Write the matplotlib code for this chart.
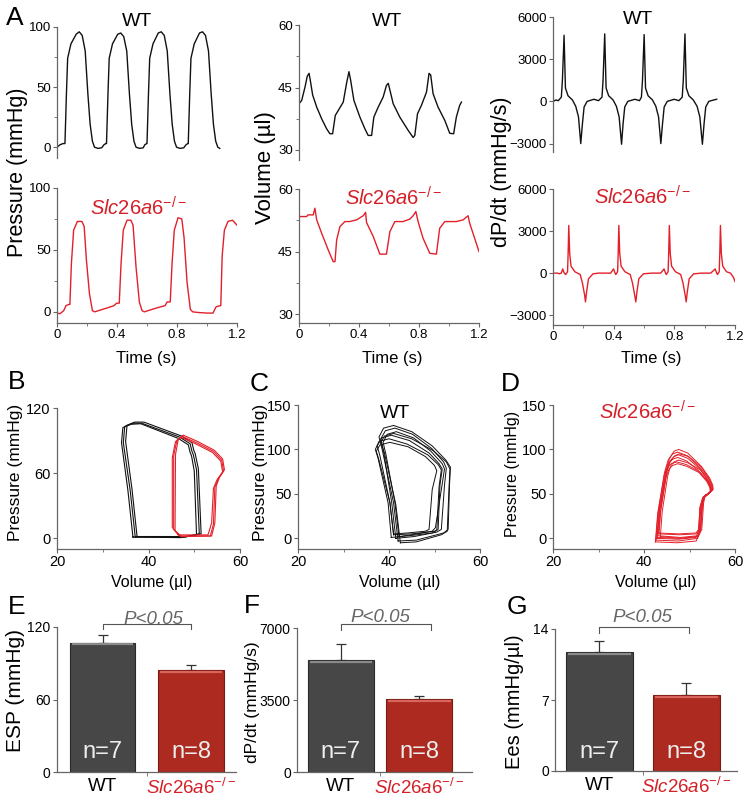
import matplotlib
matplotlib.use('Agg')
import matplotlib.pyplot as plt
from matplotlib.ticker import MultipleLocator

plt.rcParams['font.family'] = ['Liberation Sans', 'DejaVu Sans']
plt.rcParams['mathtext.fontset'] = 'custom'
plt.rcParams['mathtext.it'] = 'Liberation Sans:italic'
plt.rcParams['mathtext.rm'] = 'Liberation Sans'

# ---------------- A: traces (time in s) ----------------
p_wt_t = [0.000, 0.020, 0.040, 0.053, 0.063, 0.071, 0.093, 0.128, 0.148, 0.168, 0.188, 0.206, 0.221, 0.236, 0.250, 0.273, 0.298, 0.313, 0.325,
          0.330, 0.340, 0.348, 0.370, 0.405, 0.425, 0.445, 0.465, 0.483, 0.498, 0.513, 0.527, 0.550, 0.575, 0.585, 0.598,
          0.600, 0.610, 0.618, 0.640, 0.675, 0.695, 0.715, 0.735, 0.753, 0.768, 0.783, 0.797, 0.820, 0.845, 0.860, 0.872,
          0.875, 0.885, 0.893, 0.915, 0.950, 0.970, 0.990, 1.010, 1.028, 1.043, 1.058, 1.072, 1.085]
p_wt = [0, 2, 3, 3, 45, 74, 86, 94, 96, 93, 80, 44, 19, 5, 0, -1, -0.5, 2, 3,
        3, 45, 74, 86, 94, 95, 92, 80, 44, 19, 5, 0, -1, -0.5, 2, 3,
        3, 45, 74, 86, 95, 96, 93, 80, 44, 19, 5, 0, -1, -0.5, 2, 3,
        3, 45, 74, 86, 95, 96, 93, 80, 44, 19, 5, 0, -1]

p_ko_t = [0.000, 0.020, 0.045, 0.060, 0.078, 0.086, 0.096, 0.111, 0.136, 0.166, 0.181, 0.196, 0.216, 0.236, 0.251, 0.330, 0.380, 0.397, 0.415,
          0.427, 0.442, 0.467, 0.492, 0.507, 0.527, 0.549, 0.567, 0.582, 0.660, 0.720, 0.735, 0.755,
          0.767, 0.782, 0.807, 0.832, 0.847, 0.867, 0.889, 0.905, 0.940, 1.000, 1.040, 1.060, 1.085, 1.092,
          1.101, 1.116, 1.140, 1.170, 1.185, 1.200]
p_ko = [-1, -1.5, 1, 5, 6, 6, 39, 66, 73, 73, 69, 42, 15, 1, 0, 3, 5, 7, 7,
        39, 66, 74, 74, 70, 36, 8, 1, 0, 3, 5, 8, 8,
        39, 66, 76, 75, 60, 24, 2, 0, -0.5, -1, -1, 4, 5, 5,
        45, 66, 73, 74, 72, 70]

v_wt_t = [0.000, 0.018, 0.040, 0.055, 0.067, 0.075, 0.091, 0.118, 0.151, 0.184, 0.206, 0.224, 0.242, 0.262, 0.295, 0.317, 0.333, 0.344,
          0.366, 0.406, 0.439, 0.461, 0.484, 0.499, 0.528, 0.561, 0.583, 0.595, 0.606, 0.628, 0.672, 0.728, 0.761, 0.772,
          0.790, 0.816, 0.850, 0.867, 0.878, 0.894, 0.927, 0.972, 1.005, 1.031, 1.049, 1.071, 1.083]
v_wt = [41.1, 41.9, 45.1, 47.7, 48.4, 46.8, 43.2, 40.3, 37.5, 35.1, 33.9, 33.9, 38.3, 39.5, 41.5, 46.0, 48.8, 46.8,
        41.9, 37.9, 35.1, 33.5, 33.5, 37.9, 40.3, 42.7, 45.5, 46.0, 44.4, 41.1, 37.9, 34.7, 33.0, 33.5,
        38.7, 40.7, 43.9, 48.4, 48.0, 43.5, 40.3, 37.1, 34.0, 33.9, 37.9, 40.7, 41.5]

v_ko_t = [0.000, 0.051, 0.060, 0.084, 0.095, 0.106, 0.118, 0.151, 0.195, 0.228, 0.240, 0.251, 0.273, 0.306, 0.339, 0.384, 0.428, 0.444,
          0.450, 0.495, 0.539, 0.583, 0.606, 0.639, 0.694, 0.739, 0.761, 0.779, 0.794, 0.827, 0.872, 0.916, 0.938, 0.972,
          1.049, 1.094, 1.127, 1.138, 1.200]
v_ko = [53.4, 53.4, 53.8, 53.8, 53.8, 55.4, 52.6, 49.4, 45.4, 42.6, 42.6, 47.8, 51.0, 52.2, 52.2, 52.6, 53.6, 54.4,
        52.0, 48.6, 44.4, 44.4, 49.8, 52.2, 52.2, 52.8, 53.6, 54.6, 52.2, 48.2, 44.6, 44.4, 50.6, 52.2,
        52.2, 52.6, 53.6, 51.8, 45.0]

d_wt_t = [0.000, 0.020, 0.035, 0.055, 0.062, 0.073, 0.082, 0.099, 0.128, 0.150, 0.168, 0.183, 0.194, 0.205, 0.225, 0.270, 0.300, 0.323,
          0.330, 0.341, 0.350, 0.367, 0.396, 0.418, 0.436, 0.452, 0.462, 0.473, 0.493, 0.540, 0.570, 0.583,
          0.590, 0.601, 0.610, 0.627, 0.656, 0.678, 0.696, 0.711, 0.722, 0.733, 0.753, 0.800, 0.830, 0.852,
          0.859, 0.870, 0.879, 0.896, 0.925, 0.950, 0.968, 0.985, 0.996, 1.007, 1.027, 1.060, 1.079]
d_wt = [0, 100, 50, 300, 1500, 4700, 950, 400, 100, -350, -1100, -3000, -1600, -400, 0, 150, 50, 300,
        1500, 4800, 950, 400, 100, -350, -1100, -3050, -1600, -400, 0, 150, 50, 300,
        1500, 4750, 950, 400, 100, -350, -1100, -3000, -1600, -400, 0, 150, 50, 300,
        1500, 4800, 950, 400, 100, -350, -1100, -3050, -1600, -400, 0, 100, 150]

d_ko_t = [0.000, 0.030, 0.040, 0.055, 0.064, 0.074, 0.084, 0.096, 0.100, 0.104, 0.110, 0.119, 0.144, 0.179, 0.194, 0.209, 0.214, 0.222, 0.234, 0.264, 0.300,
          0.380, 0.399, 0.409, 0.414, 0.426, 0.430, 0.434, 0.440, 0.449, 0.474, 0.509, 0.524, 0.539, 0.546, 0.554, 0.566, 0.596, 0.650,
          0.710, 0.732, 0.742, 0.747, 0.759, 0.763, 0.767, 0.773, 0.782, 0.807, 0.842, 0.857, 0.872, 0.878, 0.886, 0.898, 0.928, 0.980,
          1.040, 1.069, 1.079, 1.084, 1.096, 1.100, 1.104, 1.110, 1.119, 1.144, 1.170, 1.190, 1.200]
d_ko = [0, 0, -50, 0, 300, 0, -100, 100, 1500, 3400, 1400, 500, 100, -100, -700, -1600, -2050, -1300, -400, -50, 0,
        0, 300, 0, -100, 100, 1500, 3400, 1400, 500, 100, -100, -700, -1600, -2050, -1300, -400, -50, 0,
        0, 300, 0, -100, 100, 1500, 3400, 1400, 500, 100, -100, -700, -1600, -2050, -1300, -400, -50, 0,
        0, 300, 0, -100, 100, 1500, 3400, 1400, 500, 100, 0, -300, -600]

# ---------------- B-D: PV loops (volume ul, pressure mmHg) ----------------
b_wt_v = [[37.1, 36.0, 34.5, 34.8, 36.5, 38.5, 46.9, 49.1, 49.5, 49.8, 50.5, 51.1, 48.0, 37.1],
          [36.6, 35.5, 34.1, 34.4, 36.2, 38.3, 46.5, 48.7, 49.1, 49.4, 50.0, 50.5, 47.0, 36.6],
          [37.5, 36.4, 35.0, 35.3, 37.0, 39.0, 47.3, 49.5, 49.9, 50.2, 50.9, 51.5, 48.0, 37.5]]
b_wt_p = [[1, 44, 88, 103, 106, 106, 93, 87, 80, 77, 63, 4, 1, 1],
          [1, 44, 88, 102, 105, 105.5, 92, 86, 79, 76, 62, 3, 0.5, 1],
          [1.5, 45, 89, 104, 107, 107, 94, 88, 81, 78, 64, 4, 1.5, 1.5]]
b_ko_v = [[46.9, 45.5, 45.5, 46.2, 47.3, 50.5, 54.2, 56.0, 56.4, 55.3, 54.5, 54.2, 53.5, 46.9],
          [46.5, 45.2, 45.2, 45.9, 47.1, 50.3, 54.0, 55.8, 56.2, 55.0, 54.2, 53.8, 53.0, 46.5],
          [47.2, 45.8, 45.9, 46.5, 47.6, 50.8, 54.4, 56.2, 56.6, 55.5, 54.8, 54.5, 53.8, 47.2]]
b_ko_p = [[2, 8, 76, 90, 94, 88, 80, 72, 62, 55, 47, 13, 2, 2],
          [3, 10, 74, 89, 93, 87, 79, 71, 61, 54, 46, 14, 3, 3],
          [1.5, 7, 77, 91, 95, 89, 81, 73, 63, 56, 48, 14, 2, 1.5]]

c_wt_v = [[42.0, 41.0, 38.5, 37.8, 38.8, 41.0, 45.0, 49.5, 52.5, 53.5, 53.3, 53.0, 52.0, 46.0, 42.0],
          [41.5, 40.6, 38.8, 38.2, 39.2, 41.3, 45.2, 49.4, 52.0, 52.6, 52.2, 51.5, 50.5, 45.5, 41.5],
          [42.2, 41.3, 39.3, 38.7, 39.6, 41.6, 45.4, 49.2, 51.7, 52.2, 51.6, 50.2, 49.5, 45.0, 42.2],
          [41.0, 40.2, 38.0, 37.4, 38.4, 40.5, 44.5, 48.8, 51.0, 51.7, 51.2, 50.8, 50.0, 45.0, 41.0],
          [40.5, 39.8, 37.6, 37.0, 37.8, 40.0, 44.0, 48.5, 50.8, 51.5, 51.0, 50.5, 49.5, 44.5, 40.5],
          [41.0, 40.2, 37.8, 37.2, 38.0, 40.2, 44.2, 48.0, 50.0, 50.5, 49.5, 48.8, 48.0, 44.0, 41.0],
          [42.5, 41.5, 39.0, 38.2, 39.0, 41.0, 45.0, 49.6, 52.6, 53.4, 53.2, 52.8, 51.5, 46.0, 42.5]]
c_wt_p = [[-3, 40, 100, 114, 124, 127, 120, 104, 88, 80, 60, 10, 6, -2, -3],
          [0, 40, 98, 112, 121, 124, 117, 101, 86, 79, 60, 10, 7, 2, 0],
          [2, 40, 95, 108, 117, 120, 113, 98, 84, 78, 58, 12, 8, 4, 2],
          [4, 40, 93, 104, 113, 116, 110, 96, 84, 78, 60, 10, 8, 5, 4],
          [1, 40, 90, 100, 109, 112, 106, 94, 83, 77, 58, 9, 6, 3, 1],
          [5, 40, 88, 98, 105, 108, 103, 92, 82, 76, 55, 10, 8, 6, 5],
          [-5, 38, 96, 108, 115, 118, 112, 99, 86, 78, 58, 8, 4, -4, -5]]

d_ko_v = [[43.0, 43.4, 44.8, 45.6, 46.6, 47.6, 49.6, 52.6, 54.4, 55.1, 55.2, 54.4, 53.5, 53.1, 52.7, 52.0, 48.0, 43.0],
          [42.6, 43.1, 44.5, 45.3, 46.3, 47.4, 49.5, 52.4, 54.2, 54.9, 55.0, 54.2, 53.3, 52.8, 52.4, 51.8, 47.5, 42.6],
          [43.3, 43.7, 45.0, 45.7, 46.6, 47.6, 49.6, 52.3, 54.0, 54.7, 54.8, 54.0, 53.1, 52.5, 52.2, 51.6, 47.8, 43.3],
          [42.8, 43.3, 44.7, 45.4, 46.3, 47.4, 49.4, 52.0, 53.8, 54.5, 54.6, 53.8, 52.9, 52.3, 52.0, 51.4, 47.5, 42.8],
          [43.6, 44.0, 45.2, 45.8, 46.6, 47.6, 49.6, 52.4, 54.0, 54.7, 54.9, 54.1, 53.2, 52.7, 52.4, 51.8, 48.0, 43.6],
          [42.5, 43.0, 44.4, 45.1, 46.0, 47.2, 49.3, 52.2, 53.9, 54.6, 54.7, 53.9, 53.0, 52.4, 52.1, 51.5, 47.3, 42.5],
          [43.2, 43.6, 44.8, 45.5, 46.3, 47.4, 49.4, 52.1, 53.8, 54.5, 54.6, 53.8, 52.9, 52.3, 52.0, 51.4, 47.6, 43.2],
          [42.9, 43.4, 44.9, 45.7, 46.8, 47.8, 49.8, 52.6, 54.3, 55.0, 55.1, 54.3, 53.4, 52.9, 52.5, 51.9, 47.9, 42.9]]
d_ko_p = [[3, 30, 76, 90, 98, 100, 96, 81, 68, 60, 55, 51, 49, 40, 10, 3, 1, 3],
          [-2, 28, 74, 88, 95, 97, 93, 79, 67, 59, 54, 50, 48, 38, 9, 0, -3, -2],
          [5, 32, 74, 86, 92, 94, 90, 78, 66, 58, 54, 50, 47, 36, 10, 5, 4, 5],
          [0, 30, 72, 84, 89, 91, 87, 76, 65, 58, 53, 49, 46, 35, 8, 1, -1, 0],
          [2, 30, 70, 81, 86, 88, 85, 77, 66, 59, 54, 50, 47, 37, 9, 2, 0, 2],
          [-4, 28, 70, 80, 84, 86, 83, 75, 65, 58, 53, 49, 46, 35, 7, -3, -5, -4],
          [6, 30, 68, 78, 82, 84, 81, 74, 64, 57, 52, 48, 45, 34, 10, 6, 5, 6],
          [1, 31, 74, 87, 93, 95, 92, 80, 67, 59, 55, 51, 48, 39, 11, 2, 0, 1]]

# ---------------- E-G: bars ----------------
groups = ['WT', r'$\mathit{Slc26a6}^{\mathit{-/-}}$']
n_labels = ['n=7', 'n=8']
esp_mean = [107, 84.5]
esp_sem = [6, 4]
dpdt_mean = [5450, 3550]
dpdt_sem = [780, 150]
ees_mean = [11.7, 7.5]
ees_sem = [1.1, 1.2]

BLACK = '#111111'
RED = '#e3202a'
RED_TXT = '#d41f27'
SPINE = '#666666'
W, H = 754, 798

fig = plt.figure(figsize=(W / 100, H / 100), dpi=100)


def px_axes(l, t, r, b):
    return fig.add_axes([l / W, 1 - b / H, (r - l) / W, (b - t) / H])


def ftext(x, y, s, **kw):
    kw.setdefault('ha', 'center')
    kw.setdefault('va', 'center')
    fig.text(x / W, 1 - y / H, s, **kw)


def style(ax, xaxis=True):
    for s in ['top', 'right']:
        ax.spines[s].set_visible(False)
    for s in ['left', 'bottom']:
        ax.spines[s].set_color(SPINE)
        ax.spines[s].set_linewidth(0.9)
    ax.tick_params(which='both', direction='out', color=SPINE, labelsize=9.5, pad=1.5)
    ax.tick_params(which='major', length=3)
    ax.tick_params(which='minor', length=2)
    if not xaxis:
        ax.spines['bottom'].set_visible(False)
        ax.set_xticks([])


SLC = r'$\mathit{Slc26a6}^{\mathit{-/-}}$'

# ---- A ----
cols = [(57, 237), (299, 479), (553, 735)]
top_rows = [(27, 158), (25, 160), (17, 152)]
bot_rows = [(188, 323), (189, 323), (189, 325)]
ylims_top = [(-9, 100), (27.6, 60), (-3600, 6000)]
ylims_bot = [(-9, 100), (27.9, 60), (-3700, 6000)]
yticks = [[0, 50, 100], [30, 45, 60], [-3000, 0, 3000, 6000]]
yminor = [25, 7.5, None]
wt_series = [(p_wt_t, p_wt), (v_wt_t, v_wt), (d_wt_t, d_wt)]
ko_series = [(p_ko_t, p_ko), (v_ko_t, v_ko), (d_ko_t, d_ko)]

for i in range(3):
    l, r = cols[i]
    at = px_axes(l, top_rows[i][0], r, top_rows[i][1])
    ab = px_axes(l, bot_rows[i][0], r, bot_rows[i][1])
    at.plot(*wt_series[i], color=BLACK, lw=1.0)
    ab.plot(*ko_series[i], color=RED, lw=1.0)
    for ax, yl in [(at, ylims_top[i]), (ab, ylims_bot[i])]:
        ax.set_xlim(0, 1.2)
        ax.set_ylim(*yl)
        ax.set_yticks(yticks[i])
        if yminor[i]:
            ax.yaxis.set_minor_locator(MultipleLocator(yminor[i]))
    style(at, xaxis=False)
    style(ab)
    ab.set_xticks([0, 0.4, 0.8, 1.2])
    ab.set_xticklabels(['0', '0.4', '0.8', '1.2'])
    ab.xaxis.set_minor_locator(MultipleLocator(0.2))

ftext(15, 18, 'A', fontsize=19)
for x, y in [(137, 21), (387, 21), (638, 20)]:
    ftext(x, y, 'WT', fontsize=14)
for x, y in [(139, 208), (394, 198), (643, 197)]:
    ftext(x, y, SLC, fontsize=14.5, color=RED_TXT)
ftext(18, 172, 'Pressure (mmHg)', fontsize=15.5, rotation=90)
ftext(265, 168, 'Volume (\u00b5l)', fontsize=16, rotation=90)
ftext(502, 172, 'dP/dt (mmHg/s)', fontsize=15.5, rotation=90)
for x in [146, 392, 651]:
    ftext(x, 359, 'Time (s)', fontsize=12)

# ---- B, C, D ----
axB = px_axes(57, 408, 240, 549)
for vv, pp in zip(b_wt_v, b_wt_p):
    axB.plot(vv, pp, color=BLACK, lw=0.8)
for vv, pp in zip(b_ko_v, b_ko_p):
    axB.plot(vv, pp, color=RED, lw=0.8)
axB.set_ylim(-10, 120)
axB.set_yticks([0, 60, 120])

axC = px_axes(298, 405, 480, 549)
for vv, pp in zip(c_wt_v, c_wt_p):
    axC.plot(vv, pp, color=BLACK, lw=0.7)
axC.set_ylim(-12, 150)
axC.set_yticks([0, 50, 100, 150])

axD = px_axes(553, 405, 735, 549)
for vv, pp in zip(d_ko_v, d_ko_p):
    axD.plot(vv, pp, color=RED, lw=0.7)
axD.set_ylim(-12, 150)
axD.set_yticks([0, 50, 100, 150])

for ax in [axB, axC, axD]:
    ax.set_xlim(20, 60)
    ax.set_xticks([20, 40, 60])
    ax.xaxis.set_minor_locator(MultipleLocator(10))
    style(ax)
    ax.tick_params(labelsize=10.5)

ftext(17, 382, 'B', fontsize=19)
ftext(259, 384, 'C', fontsize=19)
ftext(510, 384, 'D', fontsize=19)
ftext(395, 413, 'WT', fontsize=14)
ftext(648, 412, SLC, fontsize=14.5, color=RED_TXT)
ftext(16, 472, 'Pressure (mmHg)', fontsize=12.5, rotation=90)
ftext(260, 472, 'Pressure (mmHg)', fontsize=12.5, rotation=90)
ftext(513, 474, 'Pressure (mmHg)', fontsize=11.5, rotation=90)
for x in [152, 400, 656]:
    ftext(x, 582, 'Volume (\u00b5l)', fontsize=11.5)

# ---- E, F, G ----
bar_specs = [
    dict(box=(57, 627, 236, 772), xlim=(-0.514, 1.508), ylim=(0, 120), yt=[0, 60, 120], w=0.735,
         m=esp_mean, e=esp_sem, br=(0, 1.0, 122.5, 118), ptxt=(153, 619), ny=16.5, lab='ESP (mmHg)',
         labxy=(16, 691), labfs=15, letter=(17, 607, 'E')),
    dict(box=(297, 628, 472, 772), xlim=(-0.56, 1.67), ylim=(0, 7000), yt=[0, 3500, 7000], w=0.84,
         m=dpdt_mean, e=dpdt_sem, br=(0, 1.15, 7195, 6900), ptxt=(380, 617), ny=970, lab='dP/dt (mmHg/s)',
         labxy=(253, 702), labfs=12.5, letter=(252, 606, 'F')),
    dict(box=(555, 629, 737, 771), xlim=(-0.51, 1.58), ylim=(0, 14), yt=[0, 7, 14], w=0.76,
         m=ees_mean, e=ees_sem, br=(0, 1.03, 14.2, 13.6), ptxt=(642, 617), ny=1.9, lab='Ees (mmHg/\u00b5l)',
         labxy=(514, 702), labfs=14.5, letter=(517, 607, 'G')),
]
bar_cols = ['#474747', '#ad2a20']
hi_cols = ['#8a8a8a', '#d8665c']

for spec in bar_specs:
    ax = px_axes(*spec['box'])
    xs = [0, 1]
    ax.bar(xs, spec['m'], width=spec['w'], color=bar_cols, edgecolor=['#2a2a2a', '#7a1a14'], linewidth=0.8, zorder=2)
    for x, m, hc in zip(xs, spec['m'], hi_cols):
        ax.hlines(m - (spec['ylim'][1] * 0.012), x - spec['w'] / 2 + 0.02, x + spec['w'] / 2 - 0.02,
                  color=hc, lw=1.6, zorder=3)
    ax.errorbar(xs, spec['m'], yerr=[[0, 0], spec['e']], fmt='none', ecolor='#333333',
                elinewidth=0.9, capsize=3.5, capthick=0.9, zorder=1)
    ax.set_xlim(*spec['xlim'])
    ax.set_ylim(*spec['ylim'])
    ax.set_yticks(spec['yt'])
    style(ax)
    ax.tick_params(axis='y', labelsize=10)
    ax.set_xticks(xs)
    ax.set_xticklabels(groups, fontsize=13.5)
    ax.tick_params(axis='x', length=0, pad=4)
    ax.get_xticklabels()[1].set_color(RED_TXT)
    ax.set_xticks([0.5], minor=True)
    ax.tick_params(axis='x', which='minor', length=3)
    for x, t in zip(xs, n_labels):
        ax.text(x, spec['ny'], t, ha='center', va='center', color='#eeeeee', fontsize=17, zorder=4)
    x0, x1, ytop, yleg = spec['br']
    ax.plot([x0, x0, x1, x1], [yleg, ytop, ytop, yleg], color='#555555', lw=0.8, clip_on=False)
    ftext(*spec['ptxt'], 'P<0.05', fontsize=13.5, style='italic', color='#666666')
    ftext(*spec['labxy'], spec['lab'], fontsize=spec['labfs'], rotation=90)
    lx, ly, letter = spec['letter']
    ftext(lx, ly, letter, fontsize=19)

fig.savefig('out.png', dpi=100)
